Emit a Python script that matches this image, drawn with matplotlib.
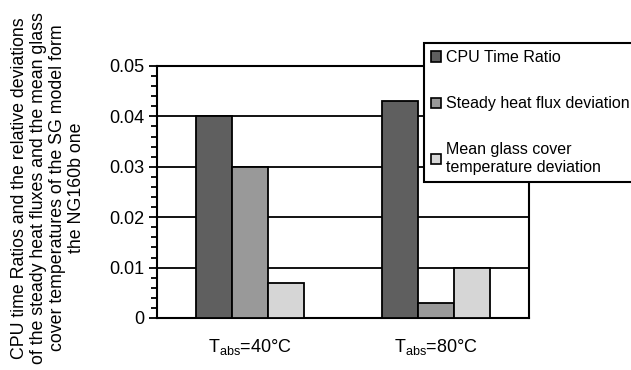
import numpy as np
import matplotlib
matplotlib.use("Agg")
from matplotlib import pyplot
from matplotlib.patches import Patch
from matplotlib.ticker import MultipleLocator

pyplot.rcParams['font.family'] = ['Liberation Sans', 'DejaVu Sans']
pyplot.rcParams['mathtext.fontset'] = 'custom'
pyplot.rcParams['mathtext.rm'] = 'Liberation Sans'

# data
categories = ['T$_{\\mathregular{abs}}$=40°C', 'T$_{\\mathregular{abs}}$=80°C']
series_names = ['CPU Time Ratio', 'Steady heat flux deviation',
                'Mean glass cover\ntemperature deviation']
cpu_ratio = [0.040, 0.043]
heat_flux_dev = [0.030, 0.003]
glass_temp_dev = [0.007, 0.010]
yticks = [0, 0.01, 0.02, 0.03, 0.04, 0.05]
ytick_labels = ['0', '0.01', '0.02', '0.03', '0.04', '0.05']
ylabel = ('CPU time Ratios and the relative deviations\n'
          'of the steady heat fluxes and the mean glass\n'
          'cover temperatures of the SG model form\n'
          'the NG160b one')

colors = ['#5f5f5f', '#999999', '#d6d6d6']

fig = pyplot.figure(figsize=(6.31, 3.70), dpi=100)
ax = fig.add_axes([157/631, 1-318/370, 372/631, 252/370])

x = np.arange(len(categories))
w = 0.194
for i, vals in enumerate([cpu_ratio, heat_flux_dev, glass_temp_dev]):
    ax.bar(x + (i-1)*w, vals, width=w, color=colors[i], edgecolor='black',
           linewidth=1.3, zorder=3)

ax.set_xlim(-0.5, 1.5)
ax.set_ylim(0, 0.05)
ax.set_xticks(x)
ax.set_xticklabels(categories, fontsize=13)
ax.tick_params(axis='x', length=0, pad=14)
ax.set_yticks(yticks)
ax.set_yticklabels(ytick_labels, fontsize=13)
ax.yaxis.set_minor_locator(MultipleLocator(0.002))
ax.tick_params(axis='y', which='major', direction='out', length=6, width=1.3, pad=3)
ax.tick_params(axis='y', which='minor', direction='out', length=4, width=1.3)
ax.yaxis.grid(True, color='black', linewidth=1.3, zorder=1)
ax.set_axisbelow(True)
for s in ax.spines.values():
    s.set_linewidth(1.5)

# y label as a centred block, slightly taller than the figure like the original
fig.text(48/631, 1-188/370, ylabel, rotation=90, fontsize=12.8,
         ha='center', va='center', multialignment='center', linespacing=1.15)

handles = [Patch(facecolor=c, edgecolor='black', linewidth=1.2) for c in colors]
leg = fig.legend(handles, series_names, loc='upper left',
                 bbox_to_anchor=(424/631, 1-43/370), fontsize=11.5,
                 frameon=True, fancybox=False, edgecolor='black',
                 handlelength=0.6, handleheight=0.6, handletextpad=0.35,
                 labelspacing=1.95, borderpad=0.45, borderaxespad=0,
                 framealpha=1)
leg.get_frame().set_linewidth(1.5)

fig.savefig('out.png', dpi=100)
